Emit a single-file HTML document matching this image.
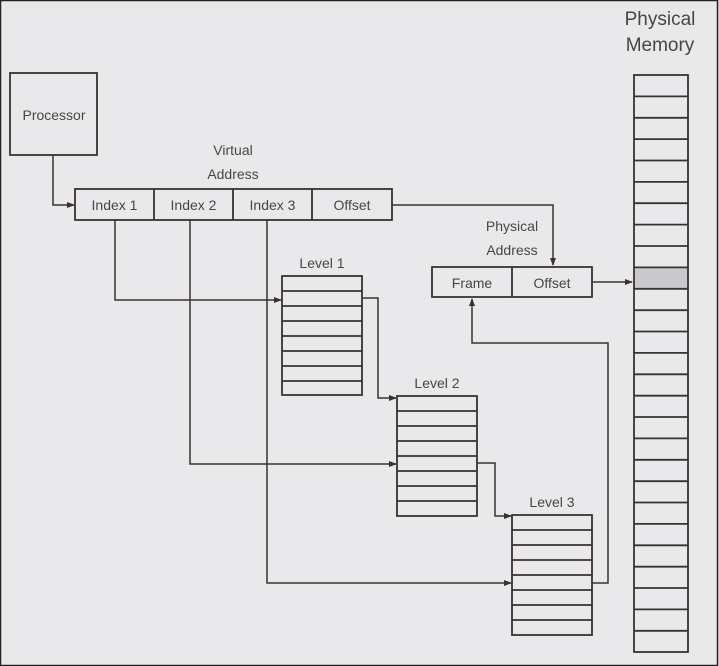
<!DOCTYPE html>
<html><head><meta charset="utf-8"><style>
html,body{margin:0;padding:0;background:#e9e9eb;}
svg{display:block;}
text{font-family:"Liberation Sans",sans-serif;fill:#4a4444;}
</style></head><body>
<svg width="719" height="666" viewBox="0 0 719 666" xmlns="http://www.w3.org/2000/svg">
<defs>
<marker id="a" markerWidth="8" markerHeight="8" refX="7" refY="4" orient="auto" markerUnits="userSpaceOnUse">
<path d="M0,1 L8,4 L0,7 z" fill="#3a3131"/>
</marker>
</defs>
<rect x="0" y="0" width="719" height="666" fill="#e9e9eb"/>
<rect x="0.5" y="0.5" width="717" height="665" fill="none" stroke="#222" stroke-width="1.5"/>
<g fill="none" stroke="#3a3131" stroke-width="1.8">
<!-- processor -->
<rect x="10" y="73" width="87" height="82"/>
<!-- virtual address -->
<rect x="75" y="189" width="317" height="31"/>
<line x1="154" y1="189" x2="154" y2="220"/>
<line x1="233" y1="189" x2="233" y2="220"/>
<line x1="312" y1="189" x2="312" y2="220"/>
<!-- physical address -->
<rect x="432" y="267" width="160" height="30"/>
<line x1="512" y1="267" x2="512" y2="297"/>
<!-- levels -->
<rect x="282" y="276" width="80" height="119"/>
<path d="M282 291H362M282 306H362M282 321H362M282 336H362M282 351H362M282 366H362M282 381H362"/>
<rect x="397" y="396" width="80" height="120"/>
<path d="M397 411H477M397 426H477M397 441H477M397 456H477M397 471H477M397 486H477M397 501H477"/>
<rect x="512" y="515" width="80" height="120"/>
<path d="M512 530H592M512 545H592M512 560H592M512 575H592M512 590H592M512 605H592M512 620H592"/>
<!-- memory -->
<rect x="634" y="267.5" width="54" height="21.4" fill="#c9c9cb" stroke="none"/>
<rect x="634" y="75" width="54" height="577"/>
<path d="M634 96.4H688M634 117.8H688M634 139.1H688M634 160.5H688M634 181.9H688M634 203.2H688M634 224.6H688M634 246H688M634 267.4H688M634 288.8H688M634 310.2H688M634 331.5H688M634 352.9H688M634 374.3H688M634 395.7H688M634 417H688M634 438.4H688M634 459.8H688M634 481.2H688M634 502.5H688M634 523.9H688M634 545.3H688M634 566.7H688M634 588H688M634 609.4H688M634 630.8H688"/>
</g>
<g fill="none" stroke="#3a3131" stroke-width="1.5">
<polyline points="53,155 53,205 74,205" marker-end="url(#a)"/>
<polyline points="115,220 115,300 281,300" marker-end="url(#a)"/>
<polyline points="362,298 378,298 378,398 396,398" marker-end="url(#a)"/>
<polyline points="190,220 190,464 396,464" marker-end="url(#a)"/>
<polyline points="477,463 495,463 495,516 511,516" marker-end="url(#a)"/>
<polyline points="267,220 267,583 511,583" marker-end="url(#a)"/>
<polyline points="592,583 608,583 608,343 472,343 472,299" marker-end="url(#a)"/>
<polyline points="392,205 553,205 553,265" marker-end="url(#a)"/>
<polyline points="592,282 632,282" marker-end="url(#a)"/>
</g>
<g font-size="14" text-anchor="middle">
<text x="54" y="120">Processor</text>
<text x="233" y="155">Virtual</text>
<text x="233" y="179">Address</text>
<text x="114.5" y="210">Index 1</text>
<text x="193.5" y="210">Index 2</text>
<text x="272.5" y="210">Index 3</text>
<text x="352" y="210">Offset</text>
<text x="512" y="231">Physical</text>
<text x="512" y="255">Address</text>
<text x="472" y="288">Frame</text>
<text x="552" y="288">Offset</text>
<text x="322" y="268">Level 1</text>
<text x="437" y="388">Level 2</text>
<text x="552" y="507">Level 3</text>
</g>
<g font-size="19" text-anchor="middle">
<text x="660" y="25">Physical</text>
<text x="660" y="51">Memory</text>
</g>
</svg>
</body></html>
